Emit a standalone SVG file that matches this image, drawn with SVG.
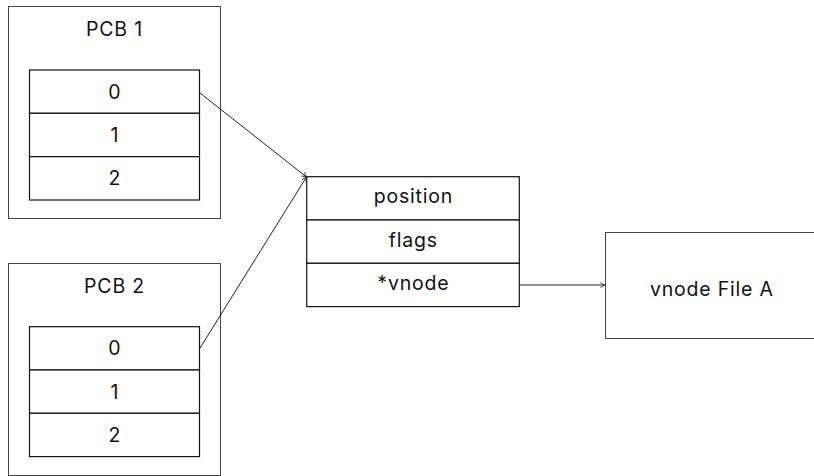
<svg xmlns="http://www.w3.org/2000/svg" width="814" height="476" viewBox="0 0 814 476">
  <defs>
    <marker id="open-arrow" viewBox="0 0 10 10" refX="9" refY="5" markerWidth="6" markerHeight="6" markerUnits="userSpaceOnUse" orient="auto">
      <path d="M1,1 L9,5 L1,9" fill="none" stroke="#222" stroke-width="1.3"/>
    </marker>
  </defs>
  <style>
    .frame { fill: #fff; stroke: #444; stroke-width: 1; }
    .cell { fill: #fff; stroke: #111; stroke-width: 1.2; }
    .label { font-family: Inter, "Liberation Sans", sans-serif; font-size: 19.5px; letter-spacing: 0.8px; fill: #111; text-anchor: middle; }
    .link { fill: none; stroke: #222; stroke-width: 1; marker-end: url(#open-arrow); }
  </style>
  <rect width="814" height="476" fill="#fff"/>

  <!-- process control block 1 with its descriptor table -->
  <g id="pcb1">
    <rect class="frame" x="8.5" y="6.5" width="212" height="212"/>
    <text class="label" x="114.5" y="35.5">PCB 1</text>
    <rect class="cell" x="29.5" y="70" width="170" height="43.3"/>
    <rect class="cell" x="29.5" y="113.3" width="170" height="43.3"/>
    <rect class="cell" x="29.5" y="156.7" width="170" height="43.3"/>
    <text class="label" x="114.9" y="98.5">0</text>
    <text class="label" x="114.9" y="141.8">1</text>
    <text class="label" x="114.9" y="185.2">2</text>
  </g>

  <!-- process control block 2 with its descriptor table -->
  <g id="pcb2">
    <rect class="frame" x="8.5" y="263.5" width="212" height="212"/>
    <text class="label" x="114.5" y="292.5">PCB 2</text>
    <rect class="cell" x="29.5" y="326.7" width="170" height="43.3"/>
    <rect class="cell" x="29.5" y="370" width="170" height="43.3"/>
    <rect class="cell" x="29.5" y="413.3" width="170" height="43.3"/>
    <text class="label" x="114.9" y="355.2">0</text>
    <text class="label" x="114.9" y="398.5">1</text>
    <text class="label" x="114.9" y="441.8">2</text>
  </g>

  <!-- open file table entry -->
  <g id="file-entry">
    <rect class="cell" x="306.7" y="176.7" width="212.6" height="43.3"/>
    <rect class="cell" x="306.7" y="220" width="212.6" height="43.3"/>
    <rect class="cell" x="306.7" y="263.3" width="212.6" height="43.3"/>
    <text class="label" x="413.4" y="203">position</text>
    <text class="label" x="413.4" y="246.5">flags</text>
    <text class="label" x="413.4" y="289.8">*vnode</text>
  </g>

  <!-- vnode for file A -->
  <g id="vnode">
    <rect class="frame" x="605.5" y="232.5" width="215" height="106"/>
    <text class="label" x="711.9" y="296">vnode File A</text>
  </g>

  <g id="connectors">
    <line class="link" x1="200" y1="93" x2="306.5" y2="177"/>
    <line class="link" x1="200" y1="348" x2="306.5" y2="177"/>
    <line class="link" x1="519.3" y1="285" x2="605" y2="285"/>
  </g>
</svg>
